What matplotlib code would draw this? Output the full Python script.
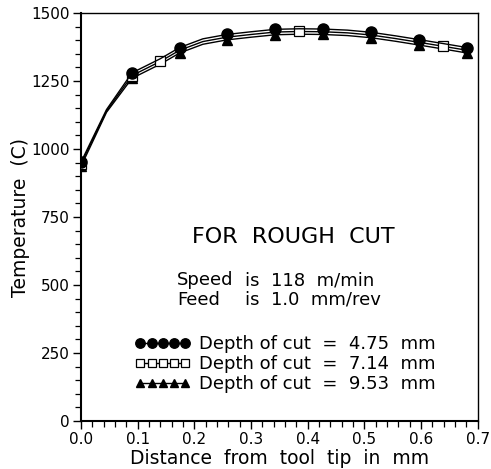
import matplotlib
matplotlib.use("Agg")
import matplotlib.pyplot as plt
from matplotlib.ticker import MultipleLocator, FormatStrFormatter

plt.rcParams['font.family'] = ['DejaVu Sans']

# distance from tool tip (mm) - line nodes
x = [0.0, 0.045, 0.09, 0.14, 0.174, 0.215, 0.257, 0.30, 0.343, 0.385,
     0.427, 0.47, 0.512, 0.555, 0.597, 0.638, 0.681]
# temperatures (C)
temp_475 = [952, 1145, 1280, 1332, 1373, 1405, 1421, 1431, 1440, 1442,
            1441, 1437, 1429, 1416, 1402, 1388, 1373]
temp_714 = [945, 1140, 1270, 1322, 1363, 1395, 1411, 1421, 1430, 1432,
            1431, 1427, 1419, 1406, 1392, 1378, 1363]
temp_953 = [936, 1135, 1260, 1312, 1353, 1385, 1401, 1411, 1420, 1422,
            1421, 1417, 1409, 1396, 1382, 1368, 1353]
marks_475 = [0, 2, 4, 6, 8, 10, 12, 14, 16]
marks_714 = [0, 2, 3, 9, 15]
marks_953 = [0, 2, 4, 6, 8, 10, 12, 14, 16]

labels = ["Depth of cut  =  4.75  mm",
          "Depth of cut  =  7.14  mm",
          "Depth of cut  =  9.53  mm"]

fig = plt.figure(figsize=(4.91, 4.69), dpi=100)
ax = fig.add_axes([0.165, 0.1023, 0.808, 0.870])

ax.plot(x, temp_953, color='black', lw=1.0, marker='^', ms=7.5,
        mfc='black', mec='black', markevery=marks_953, label=labels[2], zorder=3)
ax.plot(x, temp_714, color='black', lw=1.0, marker='s', ms=6.5,
        mfc='white', mec='black', mew=0.9, markevery=marks_714, label=labels[1], zorder=3)
ax.plot(x, temp_475, color='black', lw=1.0, marker='o', ms=8,
        mfc='black', mec='black', markevery=marks_475, label=labels[0], zorder=4)

ax.set_xlim(0.0, 0.7)
ax.set_ylim(0, 1500)
ax.xaxis.set_major_locator(MultipleLocator(0.1))
ax.xaxis.set_minor_locator(MultipleLocator(0.02))
ax.yaxis.set_major_locator(MultipleLocator(250))
ax.yaxis.set_minor_locator(MultipleLocator(50))
ax.xaxis.set_major_formatter(FormatStrFormatter('%.1f'))
ax.tick_params(which='major', direction='out', length=6, width=1.0,
               labelsize=11, pad=2)
ax.tick_params(which='minor', direction='out', length=4, width=0.9)
ax.spines['left'].set_linewidth(1.5)
ax.spines['bottom'].set_linewidth(1.5)
ax.spines['top'].set_linewidth(1.0)
ax.spines['right'].set_linewidth(1.0)

ax.set_xlabel("Distance  from  tool  tip  in  mm", fontsize=13.5, labelpad=1)
ax.set_ylabel("Temperature  (C)", fontsize=13.5, labelpad=1)

ax.text(0.375, 675, "FOR  ROUGH  CUT", fontsize=16, ha='center', va='center')
ax.text(0.169, 518, "Speed", fontsize=13, ha='left', va='center')
ax.text(0.290, 518, "is  118  m/min", fontsize=13, ha='left', va='center')
ax.text(0.169, 445, "Feed", fontsize=13, ha='left', va='center')
ax.text(0.290, 445, "is  1.0  mm/rev", fontsize=13, ha='left', va='center')

h, l = ax.get_legend_handles_labels()
leg = ax.legend(h[::-1], l[::-1], loc='upper left', bbox_to_anchor=(0.113, 0.232),
                frameon=False, numpoints=5, handlelength=3.1, handletextpad=0.45,
                labelspacing=0.1, fontsize=13, borderpad=0, markerscale=0.85)

fig.savefig("out.png", dpi=100)
